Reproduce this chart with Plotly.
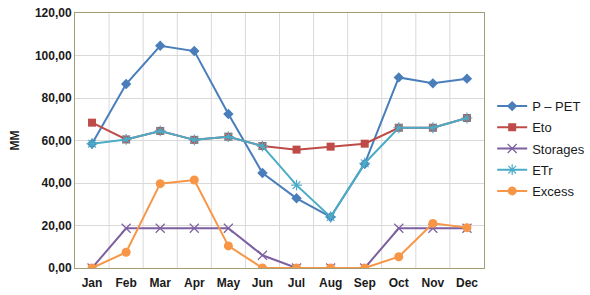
import plotly.graph_objects as go

months = ["Jan", "Feb", "Mar", "Apr", "May", "Jun", "Jul", "Aug", "Sep", "Oct", "Nov", "Dec"]
p_pet = [58.5, 86.6, 104.6, 102.1, 72.5, 44.7, 32.8, 24.0, 49.0, 89.7, 86.9, 89.1]
eto = [68.4, 60.5, 64.5, 60.3, 61.8, 57.4, 55.7, 57.1, 58.5, 66.0, 66.0, 70.6]
storages = [0.0, 18.7, 18.7, 18.7, 18.7, 6.0, 0.0, 0.0, 0.0, 18.7, 18.7, 18.7]
etr = [58.5, 60.5, 64.5, 60.3, 61.8, 57.4, 39.0, 24.0, 49.3, 66.0, 66.0, 70.6]
excess = [0.0, 7.4, 39.7, 41.4, 10.4, 0.0, 0.0, 0.0, 0.0, 5.3, 21.0, 19.0]
y_ticks = [0, 20, 40, 60, 80, 100, 120]

series = [
    ("P \u2013 PET", p_pet, "#4A7EBB", "diamond", 8, 0),
    ("Eto", eto, "#BE4B48", "square", 8, 0),
    ("Storages", storages, "#7D60A0", "x-thin-open", 9, 1.2),
    ("ETr", etr, "#4BACC6", "asterisk-open", 9, 1.2),
    ("Excess", excess, "#F79646", "circle", 9, 0),
]

FONT = "Liberation Sans, Arial, sans-serif"

fig = go.Figure()
for i, (name, vals, color, sym, size, lw) in enumerate(series):
    marker = dict(symbol=sym, size=size, color=color)
    if lw:
        marker["line"] = dict(color=color, width=lw)
    fig.add_trace(go.Scatter(
        x=months, y=vals, name=name, mode="lines+markers", legendgroup=f"g{i}",
        line=dict(color=color, width=2), marker=marker,
    ))

fig.update_layout(
    width=590, height=295,
    margin=dict(l=75, r=106, t=13, b=27, autoexpand=False),
    paper_bgcolor="white", plot_bgcolor="white",
    separators=",.",
    font=dict(family=FONT, size=12, color="#1a1a1a"),
    showlegend=True,
    legend=dict(
        x=1.02, y=0.468, yanchor="middle", xanchor="left",
        font=dict(size=13, color="#1a1a1a"),
        tracegroupgap=1.3, itemwidth=30,
        bgcolor="rgba(0,0,0,0)",
    ),
)
fig.update_xaxes(
    type="category", range=[-0.5, 11.5], automargin=False,
    showgrid=False, showline=True, linecolor="#A39D78", linewidth=1, mirror=True,
    ticks="", tickfont=dict(size=12, family=FONT, color="#1a1a1a", weight="bold"),
    ticklabelstandoff=4,
)
for k in range(1, 12):
    fig.add_vline(x=k - 0.5, line=dict(color="#D9D9D9", width=1), layer="below")
fig.update_yaxes(
    range=[0, 120], tickvals=y_ticks, tickformat=".2f", automargin=False,
    showgrid=True, gridcolor="#D9D9D9", gridwidth=1,
    showline=True, linecolor="#A39D78", linewidth=1, mirror=True,
    zeroline=False, ticks="",
    tickfont=dict(size=12, family=FONT, color="#1a1a1a", weight="bold"),
    title=dict(text="<b>MM</b>", font=dict(size=12), standoff=12),
)

fig.write_html(
    "out.html",
    config={"displayModeBar": False},
    post_script="document.body.style.margin='0';document.body.style.overflow='hidden';",
)
